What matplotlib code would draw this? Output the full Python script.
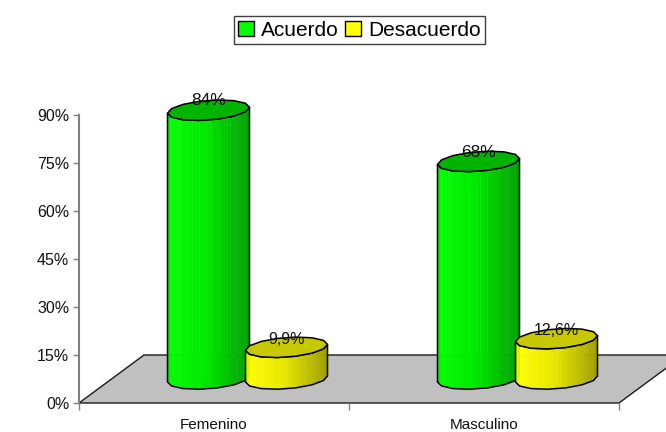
import numpy as np
import matplotlib
matplotlib.use("Agg")
import matplotlib.pyplot as plt
from matplotlib.patches import Polygon, Patch

plt.rcParams['font.family'] = ['Liberation Sans', 'DejaVu Sans']

categories = ['Femenino', 'Masculino']
acuerdo = [84, 68]
desacuerdo = [9.9, 12.6]
acuerdo_labels = ['84%', '68%']
desacuerdo_labels = ['9,9%', '12,6%']
yticks = [0, 15, 30, 45, 60, 75, 90]

W, H = 666, 432
fig = plt.figure(figsize=(W / 100, H / 100), dpi=100)
ax = fig.add_axes([79 / W, (H - 403) / H, 540 / W, 288 / H])
ax.set_xlim(0, 2)
ax.set_ylim(0, 90)
ax.patch.set_alpha(0)
PX = 2 / 540      # x data units per pixel
PY = 90 / 288     # y data units per pixel

# floor
depth_x, depth_y = 65 * PX, 15
ax.add_patch(Polygon([(0, 0), (2, 0), (2 + depth_x, depth_y), (depth_x, depth_y)],
                     closed=True, fc='#C0C0C0', ec='#1a1a1a', lw=1.0,
                     clip_on=False, zorder=1))

A, B, S = 41 * PX, 9.8 * PY, 3 * PY   # ellipse semi-axes and shear
N = 7        # facets of the lower half of the outline
SUB = 5      # shading strips per facet


def shade(f):
    return np.interp(f, [0, 0.05, 0.5, 0.6, 0.75, 0.9, 1.0],
                     [0.86, 1.0, 0.90, 0.84, 0.76, 0.68, 0.60])


def edge(cx, cy, t):
    return cx + A * np.cos(t), cy + B * np.sin(t) + S * np.cos(t)


def cylinder(cx, value, rgb, top_colour, z):
    base = 7.5
    top = base + value
    ts = np.pi + np.arange(N + 1) * np.pi / N
    bx, by = edge(cx, base, ts)
    tx, ty = edge(cx, top, ts)
    for k in range(N):
        for j in range(SUB):
            a, b = j / SUB, (j + 1) / SUB
            x0 = bx[k] + a * (bx[k + 1] - bx[k])
            x1 = bx[k] + b * (bx[k + 1] - bx[k])
            y0 = by[k] + a * (by[k + 1] - by[k])
            y1 = by[k] + b * (by[k + 1] - by[k])
            f = ((x0 + x1) / 2 - (cx - A)) / (2 * A)
            c = tuple(v * shade(f) for v in rgb)
            ax.add_patch(Polygon([(x0, y0), (x1, y1), (x1, y1 + value), (x0, y0 + value)],
                                 closed=True, fc=c, ec=c, lw=0.3, clip_on=False, zorder=z))
    ax.add_patch(Polygon(list(zip(bx, by)) + list(zip(tx[::-1], ty[::-1])), closed=True,
                         fc='none', ec='black', lw=1.1, clip_on=False, zorder=z + 0.1))
    full = np.linspace(0, 2 * np.pi, 2 * N + 1)[:-1]
    ex, ey = edge(cx, top, full)
    ax.add_patch(Polygon(list(zip(ex, ey)), closed=True, fc=top_colour, ec='black',
                         lw=1.1, clip_on=False, zorder=z + 0.2))
    return top


OFF = 39 * PX
MID = 33.5 * PX
for i in range(len(categories)):
    pos = i + 0.5 + MID
    t1 = cylinder(pos - OFF, acuerdo[i], (0, 1, 0), '#00B400', 3 + i * 2)
    t2 = cylinder(pos + OFF, desacuerdo[i], (1, 1, 0), '#C8C800', 4 + i * 2)
    ax.text(pos - OFF, t1 + 2.9, acuerdo_labels[i], ha='center', va='center',
            fontsize=12.5, color='#111111', zorder=20, clip_on=False)
    ax.text(pos + OFF, t2 + 2.5, desacuerdo_labels[i], ha='center', va='center',
            fontsize=11.5, color='#111111', zorder=20, clip_on=False)

# axes
for s in ['top', 'right']:
    ax.spines[s].set_visible(False)
ax.spines['bottom'].set_visible(False)
ax.spines['left'].set_color('#808080')
ax.spines['left'].set_linewidth(1.5)
ax.set_yticks(yticks)
ax.set_yticklabels([f'{v}%' for v in yticks], fontsize=11.5, color='#111111')
ax.tick_params(axis='y', length=4, width=1, color='#808080', pad=3)
ax.set_xticks([0, 1, 2])
ax.set_xticklabels([])
ax.set_xticks([0.5, 1.5], minor=True)
ax.set_xticklabels(categories, minor=True, fontsize=11, color='#111111')
ax.tick_params(axis='x', which='major', length=5, width=1, color='#808080')
ax.tick_params(axis='x', which='minor', length=0, pad=11)

handles = [Patch(fc='#00FF00', ec='black', lw=1), Patch(fc='#FFFF00', ec='black', lw=1)]
leg = fig.legend(handles, ['Acuerdo', 'Desacuerdo'], ncol=2, loc='center',
                 bbox_to_anchor=(359.5 / W, (H - 30) / H), fontsize=15, frameon=True,
                 fancybox=False, edgecolor='#404040', framealpha=1,
                 handlelength=0.75, handleheight=0.75, handletextpad=0.35,
                 columnspacing=0.3, borderpad=0.2, borderaxespad=0)
leg.get_frame().set_linewidth(1)

fig.savefig('out.png', dpi=100)
